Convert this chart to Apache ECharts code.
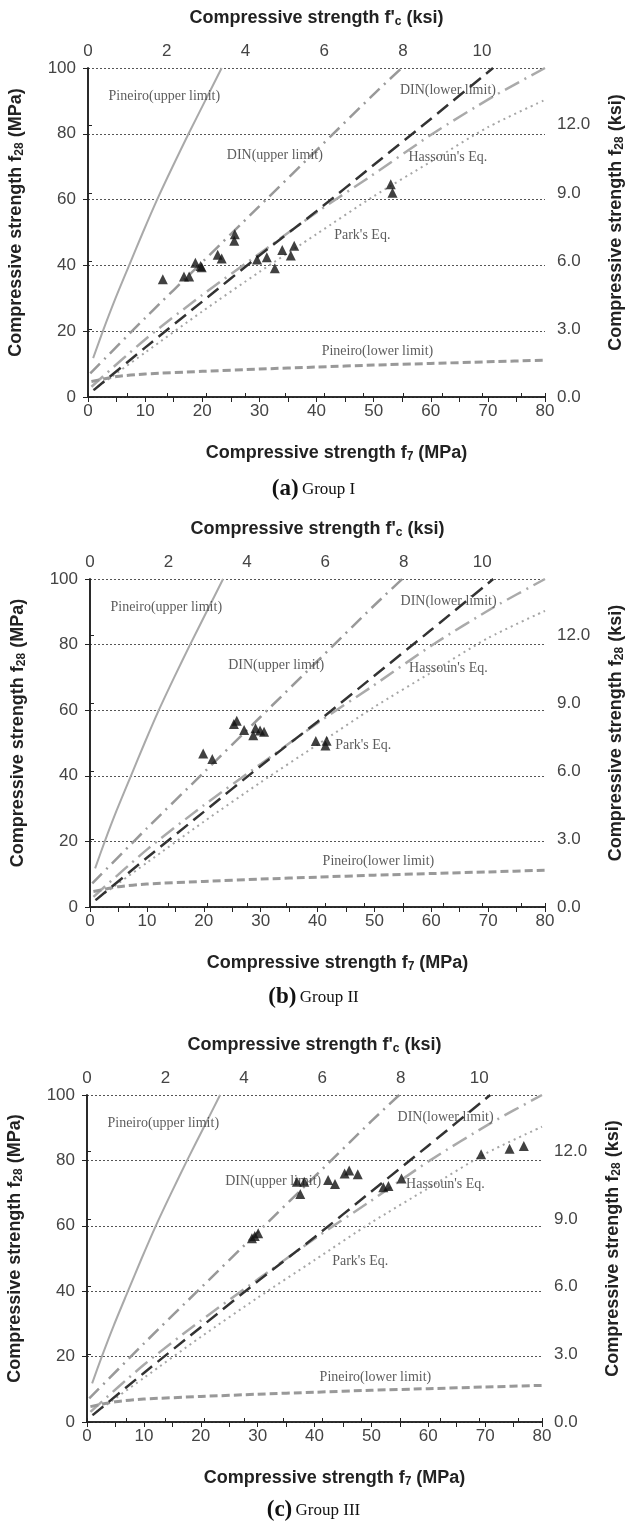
<!DOCTYPE html>
<html><head><meta charset="utf-8">
<script src="https://cdn.jsdelivr.net/npm/echarts@6/dist/echarts.min.js"></script>
<style>html,body{margin:0;padding:0;background:#fff}#c{width:627px;height:1531px}</style>
</head><body><div id="c"></div>
<script>
// ---- data ----
const pineiroUpper = [[0.9,11.8],[2.6,20],[4.7,29.5],[7.2,40],[9.6,50],[12.1,60],[14.8,70],[17.6,80],[20.5,90],[23.4,100]];
const dinUpper = [[0.4,7.2],[10,24],[20,41],[30,58],[40,75],[50,92],[54.9,100]];
const dinLower = [[1.0,2.1],[10,15],[20,29],[30,43],[40,56.5],[50,70.5],[60,84.5],[70.9,100]];
const hassoun = [[0.6,3.1],[10,17.5],[20,31],[30.1,43.7],[40.6,56.8],[49.4,67],[60.4,80.1],[70.9,91.3],[80,100]];
const park = [[0.9,2.1],[10,13.5],[20,26],[30,38],[40,49.5],[50,61],[60,71.5],[70,82],[80,90.3]];
const pineiroLower = [[0.6,4.7],[5,6.2],[10,7],[20,7.8],[30,8.5],[40,9.1],[50,9.7],[60,10.2],[70,10.7],[80,11.2]];

const groupI = [[13.1,35.8],[16.8,36.6],[17.7,36.6],[18.8,40.8],[19.7,39.8],[19.9,39.4],[22.7,43.2],[23.4,42.1],[25.7,49.5],[25.6,47.5],[29.6,41.8],[31.3,42.5],[32.7,39.1],[34.0,44.7],[35.5,43.0],[36.1,46.0],[53.0,64.7],[53.3,62.1]];
const groupII = [[19.9,46.8],[21.5,45.1],[25.3,55.8],[25.8,56.8],[27.1,54.0],[28.7,52.4],[29.1,54.5],[29.9,53.8],[30.6,53.4],[39.7,50.6],[41.4,49.2],[41.6,50.7]];
const groupIII = [[29.0,56.2],[29.5,56.9],[30.1,57.7],[36.9,73.5],[38.2,73.5],[37.5,69.7],[42.4,74.0],[43.6,72.8],[45.3,76.0],[46.1,76.9],[47.6,75.8],[52.1,71.8],[53.0,72.2],[55.3,74.5],[69.3,81.9],[74.3,83.6],[76.8,84.4]];

const annotTexts = ['Pineiro(upper limit)','DIN(lower limit)','DIN(upper limit)',"Hassoun's Eq.","Park's Eq.",'Pineiro(lower limit)'];
const annotX = [3.6, 54.6, 24.3, 56.1, 43.1, 40.9];
const annotY = [91.3, 93.3, 73.6, 72.7, 49.2, 13.8];

const panelLetters = ['(a)','(b)','(c)'];
const panelGroups = ['Group I','Group II','Group III'];
const groups = [groupI, groupII, groupIII];

const MPA_PER_KSI = 6.895;
// ---- layout ----
const grids = [
  {left:88, top:68, width:457, height:329},
  {left:90, top:579, width:455, height:328},
  {left:87, top:1095, width:455, height:327}
];
const captionY = [491, 999, 1512];

const tickFont = {fontFamily:'"Liberation Sans",Arial,sans-serif', fontSize:17, color:'#444'};
const titleStyle = {fontFamily:'"Liberation Sans",Arial,sans-serif', fontSize:18, fontWeight:'bold', color:'#222',
  rich:{s:{fontFamily:'"Liberation Sans",Arial,sans-serif', fontSize:12, fontWeight:'bold', color:'#222', verticalAlign:'bottom', padding:[8,0,0,0]}}};
const axisLine = {show:true, lineStyle:{color:'#222', width:1.6}};

const xAxes=[], yAxes=[], series=[], graphics=[];
grids.forEach((g,i)=>{
  xAxes.push({gridIndex:i, type:'value', position:'bottom', min:0, max:80, interval:10,
    axisLine, axisTick:{show:true, inside:false, length:5, lineStyle:{color:'#222'}},
    minorTick:{show:true, splitNumber:2, length:5, lineStyle:{color:'#222'}},
    axisLabel:Object.assign({margin:6}, tickFont), splitLine:{show:false},
    name:'Compressive strength f{s|7} (MPa)', nameLocation:'middle', nameGap:46,
    nameTextStyle:Object.assign({padding:[0,0,0,40]}, titleStyle)});
  xAxes.push({gridIndex:i, type:'value', position:'top', min:0, max:80/MPA_PER_KSI, interval:2,
    axisLine, axisTick:{show:true, length:4, lineStyle:{color:'#222'}},
    minorTick:{show:true, splitNumber:2, length:4, lineStyle:{color:'#222'}},
    axisLabel:Object.assign({margin:8, showMaxLabel:false, formatter:v=>Math.abs(v-Math.round(v))<1e-6?String(Math.round(v)):''}, tickFont),
    splitLine:{show:false},
    name:"Compressive strength f'{s|c} (ksi)", nameLocation:'middle', nameGap:40, nameTextStyle:titleStyle});
  yAxes.push({gridIndex:i, type:'value', position:'left', min:0, max:100, interval:20,
    axisLine, axisTick:{show:true, length:5, lineStyle:{color:'#222'}},
    axisLabel:Object.assign({margin:12}, tickFont),
    splitLine:{show:true, lineStyle:{color:'#555', type:[2,2], width:1}},
    name:'Compressive strength f{s|28} (MPa)', nameLocation:'middle', nameGap:62, nameRotate:90,
    nameTextStyle:Object.assign({padding:[0,0,0,20]}, titleStyle)});
  yAxes.push({gridIndex:i, type:'value', position:'right', min:0, max:100/MPA_PER_KSI, interval:3,
    axisLine, axisTick:{show:true, length:4, lineStyle:{color:'#222'}},
    axisLabel:Object.assign({margin:12, showMaxLabel:false, formatter:v=>Math.abs(v-Math.round(v))<1e-6?v.toFixed(1):''}, tickFont),
    splitLine:{show:false},
    name:'Compressive strength f{s|28} (ksi)', nameLocation:'middle', nameGap:61, nameRotate:90,
    nameTextStyle:Object.assign({padding:[0,0,0,20]}, titleStyle)});

  const xi = 2*i, yi = 2*i;
  const line = (name, data, color, width, type, z) => ({
    name, type:'line', xAxisIndex:xi, yAxisIndex:yi, data, showSymbol:false, symbol:'none', smooth:0.25,
    lineStyle:{color, width, type}, z, silent:true, animation:false});
  series.push(line('Pineiro(upper limit)', pineiroUpper, '#a9a9a9', 2, 'solid', 2));
  series.push(line('DIN(upper limit)', dinUpper, '#999', 2.5, [14,6,2,6], 2));
  series.push(line("Hassoun's Eq.", hassoun, '#aaa', 2.5, [16,6,2,6], 2));
  series.push(line("Park's Eq.", park, '#a6a6a6', 2, [2,4], 2));
  series.push(line('Pineiro(lower limit)', pineiroLower, '#999', 3, [8,4], 2));
  series.push(line('DIN(lower limit)', dinLower, '#333', 2.5, [14,7], 3));
  series.push({name:panelGroups[i], type:'scatter', xAxisIndex:xi, yAxisIndex:yi, data:groups[i],
    symbol:'triangle', symbolSize:10, itemStyle:{color:'#111'}, z:5, animation:false});
  series.push({name:'labels', type:'scatter', xAxisIndex:xi, yAxisIndex:yi, symbolSize:0, silent:true, animation:false,
    data: annotTexts.map((t,k)=>[annotX[k], annotY[k], t]), z:4,
    label:{show:true, position:'right', distance:0, formatter:p=>p.data[2],
      fontFamily:'"Liberation Serif","Times New Roman",serif', fontSize:14, color:'#333'}});

  graphics.push({type:'text', left:'center', top:captionY[i]-13,
    style:{text:'{b|'+panelLetters[i]+'} {g|'+panelGroups[i]+'}',
      rich:{b:{fontFamily:'"Liberation Serif",serif', fontSize:23, fontWeight:'bold', fill:'#111'},
            g:{fontFamily:'"Liberation Serif",serif', fontSize:17, fill:'#111'}}}});
});

const chart = echarts.init(document.getElementById('c'), null, {renderer:'canvas'});
chart.setOption({
  animation:false, backgroundColor:'#fff',
  grid: grids.map(g=>Object.assign({containLabel:false, outerBoundsMode:'none'}, g)),
  xAxis:xAxes, yAxis:yAxes, series, graphic:graphics
});
</script></body></html>
